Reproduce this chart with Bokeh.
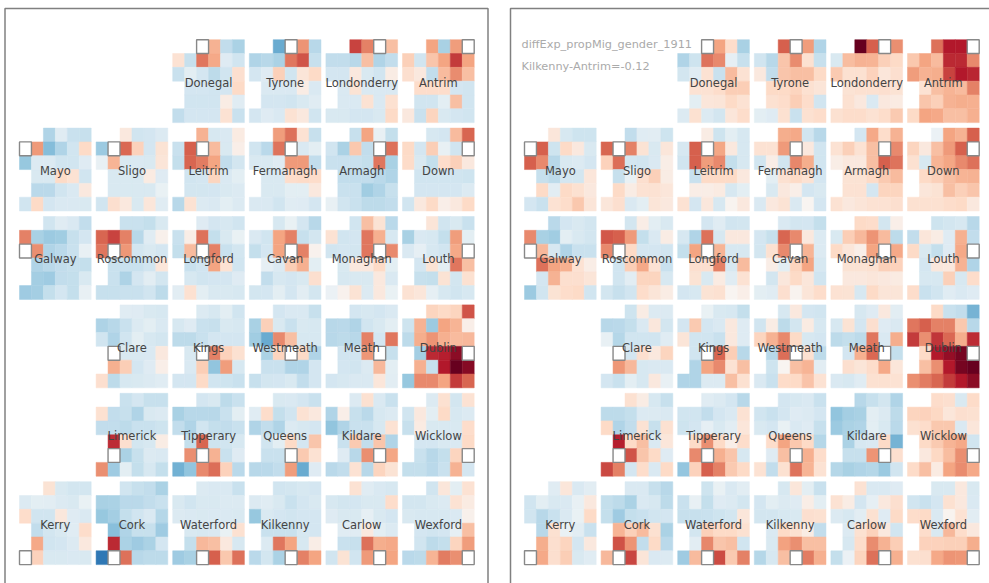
from bokeh.plotting import figure
from bokeh.models import Range1d, ColumnDataSource, LinearColorMapper
from bokeh.core.properties import value
from bokeh.transform import transform
from bokeh.embed import file_html
from bokeh.resources import INLINE

N = None
counties = ["Donegal","Tyrone","Londonderry","Antrim",
            "Mayo","Sligo","Leitrim","Fermanagh","Armagh","Down",
            "Galway","Roscommon","Longford","Cavan","Monaghan","Louth",
            "Clare","Kings","Westmeath","Meath","Dublin",
            "Limerick","Tipperary","Queens","Kildare","Wicklow",
            "Kerry","Cork","Waterford","Kilkenny","Carlow","Wexford"]
title_lines = ["diffExp_propMig_gender_1911", "Kilkenny-Antrim=-0.12"]

# grid position (row, col) of each of the 32 places
grid_rows = [(0,[2,3,4,5]),(1,[0,1,2,3,4,5]),(2,[0,1,2,3,4,5]),(3,[1,2,3,4,5]),(4,[1,2,3,4,5]),(5,[0,1,2,3,4,5])]

# Left panel, colour-scale value per cell (same order as counties)
L_Donegal=[N,3.5,-2.5,-3.2, 1.5,-2.3,5.3,3.8,-1.3,-2, -2.2,-1,-1.8,-2.6,-2,1.7, -1.8,-1.8,-2,-1.8,2, -2,-2,-2,.8,-1.2, -2.5,-1.8,-1.8,-1.8,1.5,-2.2]
L_Tyrone=[-5,N,4.5,-2.8, -3,-2.8,-3.2,5.3,6.3,-2.3, -1.8,-1.3,2.4,-2,1.3,2, -1.5,-1.5,-1.5,.8,-1.5, -1.8,-1.8,-2,-1.6,-1.2, -1.8,-1.3,-1.5,1.5,1,-2]
L_Londonderry=[6.8,5,N,3, -2.5,-2.5,-2.8,3,-3,-2.5, -1.8,-1.8,1,-1.6,-2,.8, -1.5,1.4,-1.5,-1.5,-1.5, -1.5,-1.5,1.5,-1.5,1.6, -1.6,-1.6,-1.8,-1.8,-1.6,2]
L_Antrim=[4,-3.3,4.2,N, 2.4,-2,2.8,4,7,4, 1.7,1,-2.5,3.2,4.7,3, 1.8,1.8,1.8,-1.8,-2, -2,-2,-1,3,-2, 1,-2.2,2.2,-1.6,-1.8,-2]
L_Mayo=[-3,-1.2,-2.2,-2.3, N,4.3,-4.3,-3,-2,2, -3.8,-1.4,-1.4,-2,-2,-1.3, -1.6,-1.6,2,1.5,-2, -2.7,-2.7,-2,-1.5,1, -2,2,-1.8,-1.5,-1.5,-1.6]
L_Sligo=[1,-2,-1.8,-1.4, -3.7,N,5.7,2.3,-1.8,1.4, -.8,3.4,-1.6,-1.5,-1.6,1.3, -1.6,-1.6,-1.6,.9,-1.3, -1.6,-1.6,-1.6,-1.6,-.7, -2,1.7,1,-1.6,1.2,-1.2]
L_Leitrim=[3.5,-1.7,-1.5,.9, -2.2,6,N,3.2,-1.6,.6, -2.4,5.8,5.2,4,-2.5,-1.9, -2,-1.8,2.2,-1.5,-1, -1.9,-1.9,-1.8,-1.6,-1.4, -2.8,1.5,-1.4,-1.5,-1,-1.4]
L_Fermanagh=[4.2,5.5,1.5,-2.3, -2,-2.7,5.4,N,-1.5,-1, -1.6,-1.6,-1.3,4.3,4.3,-2.5, -1.6,-1.6,1.8,2,1.8, -1.6,-1.6,-1,-1,1, -1.5,-1.5,-2,-1.2,-1.3,-1.8]
L_Armagh=[-2.3,4,-.8,-2.4, -2,-3.2,2.7,-2.5,N,5.5, -2.2,-2.2,-2.2,-2.4,5.3,-3.3, -2.5,-2.5,-2.5,-2.7,-3, -2.2,-2.2,-3.5,-3,-2.3, -.8,-2,-2.2,-2.6,-2.6,-2.5]
L_Down=[-1.7,-1.8,3.2,5.8, 2,-1.8,2.5,-.8,-2,N, 1.9,-1.6,-2.4,1.8,2.4,1, -2,-2,-2,-2,-2.1, -1.8,-1.8,-1.8,-1.8,-1.4, -2,1,2,.6,1,2]
L_Galway=[-2,-1.2,-1.5,-2.5, 5,-3.3,-3.7,-3.5,-2.3,-1.8, N,4.6,-3,-2.7,-2.2,-.8, -3,-2.7,-2.5,-2.3,-2.4, -3.4,-3.6,-2.5,-2.4,-1.6, -3.6,-3.4,-2.4,-1.8,-2.4,-.8]
L_Roscommon=[-2.2,-2.2,-2.4,-1.6, 5.8,6.8,5,-2.8,-1.2,.5, 5.3,N,4.4,-1.9,-1.6,-1.8, -2.2,-2.2,-2.2,-2,1.2, -2.2,-3.1,-1.8,-1.1,-1.9, -2.3,-2.3,-2.2,-2.2,-2,-2.6]
L_Longford=[-1.3,-1.8,-1.7,-2, -2.2,.7,5.5,-2.4,-1.6,-.7, -2.4,3.2,N,5,-2.2,-1.9, -2.2,-2,4,1.5,-2, -1.7,-2,-1.8,-1.8,-1.3, -1.1,1.6,-1,-1.6,-1.6,-1.7]
L_Cavan=[-1.7,-.7,-1.8,-2.8, -1.5,-2,4,5,-2.3,-1.9, -2.4,-1.8,4,N,5,.4, -.9,-1.4,2.5,3.6,-1, -2.5,-1.7,-1.8,-1.6,1.7, -1.9,-1.8,-1,-1.8,-1.1,-1.9]
L_Monaghan=[-2,3,1.4,-2.7, 1.5,-2,-1.8,5.3,3.6,-1.7, -2,-1.8,-1.9,5.3,N,4.8, -1.6,1,1,2,-1, -1.7,-1.6,-1.6,1,-1.5, -.6,.4,1.4,-1.4,1,-.7]
L_Louth=[1.3,-2,-1.6,-2.2, -3.3,-1.5,-1.7,-2.4,4.2,-1, -1.5,-.9,-1.7,-2,3.8,N, -1.8,1.4,-1,5.3,3, -2.3,-2.4,1.4,-1.9,1.6, 1.5,1.2,-.9,-1.7,-2,-1.7]
L_Clare=[-1.2,-1.3,-1.6,-1.7, -3.1,-2.8,-2.2,-1.4,-1,-1.5, -2,-3,-2,-1,-1.7,-1.9, N,-1.6,-1.6,-1.5,1, 3.6,2.5,-1.8,-1.3,.6, 1.7,-2.6,-1.7,-1.6,-1.4,-1.2]
L_Kings=[-1.4,-1.7,-1,-2, -1.7,-1.3,-2.2,-2.3,-1.6,-1.7, -2.6,-2.6,-2.2,-1.8,-1.8,-1.8, -1.6,N,5,2.3,1.6, -1.5,2.5,-4,4.2,-1.7, -1.8,-1.8,2,-2,-2.1,-2.2]
L_Westmeath=[-1.8,-1.5,-1.5,-2.3, -3.3,2.4,-1.6,-2.2,-1.6,-1.7, -3.5,-5,4.8,3,-1.7,-1.7, -3.2,2.2,N,2,-3, -2.2,-2.2,-3,-3,-1.8, -2.3,-1.9,-1.8,-1.6,-2.5,-1.8]
L_Meath=[-1.8,-1.7,-1.8,-1.5, -2.8,-2.7,-3,-2,-1.6,-1, -2.8,-2.6,-2.8,5,-1.8,5.3, -2,-2,4.4,N,-2.3, -1.8,-2,-1.4,3.3,-1, -1.8,-1.7,-1.5,-1.5,1.2,-1.1]
L_Dublin=[2.2,2,2.2,6.3, -2.1,3.5,-3.7,4,3.4,.6, -2.6,3.7,4.5,3.6,3.2,3.3, -3.4,7.5,7.8,9,N, 3.6,-2.3,8,10,9.2, -3.8,4.8,4.8,4,7,5.8]
L_Limerick=[-2.2,-1.8,-2.3,-2.3, 1.6,-2.5,-2.3,-3,-1.6,-1.4, -2.5,-2.5,-2.6,-2.2,-2.2,-2.1, 7.4,1.7,-1.9,-1.7,.8, N,-3.2,-2.3,-1.4,-1.5, 4.6,-3.6,-1,-2.4,-1.7,-2.4]
L_Tipperary=[-1.8,-1.6,-2.6,-2.2, -3.3,-2.8,-2.8,-2.8,-2.2,-1, -2.5,-3,-2,-2.4,-2.5,-2.2, -2.4,5.8,-2.1,-2,-1.7, 4.6,N,3.5,-2.2,-1.3, -4.8,-4,4.8,5.6,2.3,-2.7]
L_Queens=[-1.6,-1.5,-1.8,-2.2, -1.2,1.8,-2.4,-2,1.5,1, -3,-2.5,-3,-1.4,-1.7,-1.8, -2,-1,2,-1.8,2.8, -2.2,-2.2,N,2.6,1.5, -2.8,-2.7,-2.5,4.2,-5,-1.3]
L_Kildare=[-1.4,1.6,-1.5,-2.2, -3,.6,-2.3,-2.7,-1.7,-1.4, -4,-3,-2.2,-2.2,-1.7,1.5, -2.2,2.6,-2.5,2.8,-3, -1.3,-2.8,4.6,N,3.9, -2.7,-2.5,1.5,-2.8,2.2,1.4]
L_Wicklow=[-1.4,1.6,-1.9,1.5, -2,1,-1,2,-1.7,-1.4, -2.3,.9,-1.6,-1.6,-1.6,1.8, -1.8,-1.8,-1.6,-1.5,2, -2.2,-2.8,-2.4,2.2,N, -2.4,-2.4,-2.7,-2.2,3.5,-1.8]
L_Kerry=[1.4,-1.6,-1.9,-1.9, -1.4,-1,-1.1,-1.4,-1.6,-.7, 1.8,-2,-2,1.1,-1.3,-1.5, -2.5,-1.9,-1.6,-1.2,1.8, 3.8,-2,-1.8,-1.4,1, N,2.3,-1.6,-1.6,-1.5,-1.6]
L_Cork=[-2,-2.3,-2.5,-3.2, -3.3,-3.2,-2.7,-2.7,-2.5,-2.2, -3.8,-3.4,-2.4,-2,-1.5,-2.9, -4.2,-3,-2.3,-2.3,-3.6, 7.5,-3.2,-3.6,-3.2,-1.8, -7.2,N,5.5,-2.8,-2.6,-2.6]
L_Waterford=[-1.4,-1.5,-1.5,-2.2, -1.6,-2,-1.6,-1.6,-1.4,-1.4, -1.4,-1.5,-1.6,-1.5,-1.5,-1.6, -1.6,-1.7,-1.5,-.7,1.6, -2.4,3.3,3,1,-1.7, -3.6,-3.3,N,6,2.7,5.5]
L_Kilkenny=[-2,-1.9,-1.7,-1.8, -1.4,-1.2,-1.6,-2.2,-1.8,-1.6, -3.8,-1.6,-1.8,-2,-1.8,-1.8, -2.2,-2.2,-2.2,-1.7,-1.8, -1.4,5.3,4,-1.7,.7, -2.7,-1.9,-3.2,N,5,4]
L_Carlow=[1.5,-1.2,-1.5,-1.7, -1.7,-1.9,-1.8,-1.6,-1.6,1.8, -1.3,-1.6,-1.6,-.9,-1.6,-1.8, -1.2,-1.2,1,-1,-1.4, -2.2,-2.3,5.5,3.7,3.8, -2,1.4,-2,4.3,N,4]
L_Wexford=[-2,1.2,-1,1.5, -1.9,-1.9,-1.6,-1.4,1.5,.9, -1.6,-1.7,-1.7,-1.7,-1.5,.5, -1.8,-2,-1.8,-.9,3, -2,-2.6,-2.4,2.2,4.2, -2.7,-2.6,3.4,5.2,4.6,N]

# Right panel
R_Donegal=[N,4,1.8,-3.3, -3,-2.1,5.4,4.8,-.9,-2.3, -1.9,-1.2,1.5,-2.2,3.2,1.5, 1.5,1.5,1.8,2.5,2.5, -1,1.2,1.3,2,1.5, -1.4,1.6,-1.4,-1.9,1.2,1.8]
R_Tyrone=[6,N,4.2,-3, -2,-2.8,2.8,4.7,1.6,-2.3, 1,-2.5,2.8,3,3,2, 2,2,2.2,1.6,1.3, 1.6,1.8,2.5,1.8,-2, -1,-1.3,1.6,-2.2,1.6,1.8]
R_Londonderry=[10,6,N,4.6, -1.6,3.1,3.5,3.4,2.4,2, 2.6,1.6,1.6,2.3,1.2,1.7, 1.4,1.6,1.6,1.7,1.4, 1.6,1,-1.5,1,.9, 1.6,1.8,1.8,1.5,1.8,2.6]
R_Antrim=[5.5,8,8,N, 2.7,4,3.2,7.5,7.5,4.8, 4.2,3.5,3.7,6.8,8,7.6, 1.5,3,3.4,3.2,5, 2.8,2.4,3.5,3.7,3.6, 2,4,3.8,3,3,3.6]
R_Mayo=[1.2,-1.7,-2.1,-2.1, N,6,-2.1,2,1,-1.6, 6,4.8,-2.8,-1.6,-1.4,-1.8, -2.3,-2.6,-1.8,-1.9,1.2, 2,-1.1,2,1.6,1, -1.8,-2.2,1.5,1.8,2.7,1.3]
R_Sligo=[-2.5,-1.2,-1.1,-2.1, 5.8,N,5,1.4,-1.6,1.2, 2.3,5.6,-1.9,-2,-1.5,.7, -2.3,-.7,1.7,2.4,.8, 2,.8,1.5,1.5,1.2, 1.2,1.7,-1.5,-1,1.3,1]
R_Leitrim=[.8,-2.1,-1,-1.7, -1.7,6,N,3.9,1,-1.7, -2,6,4.2,4.8,-2.4,-1.7, -2.2,2,2,2,1, .7,.7,.9,-1.7,-1, 1.5,-1.8,1.1,-1.7,.3,1]
R_Fermanagh=[3.7,3.8,-2,-2.8, 1.5,1.5,4.3,N,1,-2, -2,.7,-2,4.9,3.7,-2, -1,1.6,2,1.5,-1.8, -1.6,1,.6,-1.8,-1.6, -1.5,1,1.4,-1.5,.2,-1.8]
R_Armagh=[-1.8,3.8,1.8,3.5, 1.5,2.4,1.5,3,N,4.8, .7,1,1,3,6,5.4, 1.4,1.4,2,2.6,3.2, 1.5,1.5,-1.8,2.2,2.2, 1.5,1,1.3,1.5,1.5,1.7]
R_Down=[-.6,4,3.5,6, 2.2,1,3,4.3,6,N, 1.6,-1.7,3.4,3.9,4.8,5.5, 2,2.4,3,3.4,3.5, 1.2,1.4,3,2.4,2.8, 1.6,1.6,1.6,1.8,2,1]
R_Galway=[-2.7,-1.8,-1.6,-1.9, 4.8,-3.3,-3.5,-1,-1.6,-1.9, N,3.3,-1.7,-3,-2.2,-2.2, 5.5,4,3.6,1.5,.7, -1.8,3.5,1.7,1.7,1.3, -3.7,-2,1.4,1.8,2,-2]
R_Roscommon=[-1.9,.7,-1,-1.6, 6.2,6,4.3,-2.4,-1.5,.8, 4.8,N,2,-1.8,-1.8,-2, -2,2.5,3.8,1.5,-2.2, -2,-1.1,2.2,2.2,-1.7, -1.9,-2.3,-2,1.8,1.3,.8]
R_Longford=[-1.8,-1.2,-2,-1.9, -1.7,-3,5.5,-1.7,1,1, -2.4,4,N,3.4,-1.7,-1.7, 1.7,1.7,5,-1.7,3.2, 1.4,-1.6,.9,-1.2,1.5, -1.8,-1.7,1.4,1.6,.2,.6]
R_Cavan=[-1.5,-1.9,-1.8,-2.4, -1.8,-2.3,5.8,4.8,1,-1.4, -1.9,1.6,4.8,N,3.4,-1.4, .7,-1,2.2,4,-1.7, -1.9,1.1,2,1.2,-2, -1,-1.2,1.7,.3,1.3,1.8]
R_Monaghan=[2,1.8,-1.9,.6, -1.6,2.5,3.3,4.5,3.2,-2.6, 2,1.2,.6,4,N,3.8, 1.4,1.4,1.6,2.4,2.3, 1,1,1.2,1,.9, 1.5,1.4,-1.7,2,1.3,1.3]
R_Louth=[-2.1,-1.9,-1.7,-2.8, -2.5,1.2,.8,-1.3,3.6,-2.5, 2,-1.6,-2.4,-1.3,3.8,N, -1.8,1.1,1,3.5,-3, -1.7,-1.7,2.4,-1.7,1.8, 1.8,-2.2,-2,-1.2,-1.5,-1.3]
R_Clare=[-2.1,.8,-1.4,-1.4, -2.8,-2.7,-2.4,-1.5,1.1,-1.9, -.8,-2.9,-2,-2,-2,-1.2, N,-1.8,1.7,1,2.2, 4.4,3.3,-1.7,-1.5,-1.5, -1.8,-2.2,-1,-1.7,1,-.8]
R_Kings=[-.7,-1.6,-1.7,-2.4, -1.8,2.6,-1.8,-1.5,1,-1.3, 1.3,-2,-2,-2.2,1,-1.3, -2,N,5.8,2.5,-2.8, -3,4,4.8,1.5,3, -3,-3,-1.4,-1.4,3,1.6]
R_Westmeath=[-1.7,1,-1.8,-2, -2,.8,-2.6,-1.9,.9,-1.7, 2.2,3.5,4.8,2,-1.7,-1.8, -2.8,5.6,N,1.6,-2.6, -2.1,.2,3,3.4,-1.1, -1.5,-2.2,1.9,2,2.9,1.5]
R_Meath=[-1.7,-1.3,1,-1.1, -1.7,1.4,-1.8,1.7,-1.3,-1.5, -2.6,-2.4,-2.6,5.3,-1.5,3.7, -1.8,3.6,5.7,N,-2.4, 1.7,1.3,1.8,3.8,1.2, -1.5,-1.7,-1.2,1.6,1.6,1.5]
R_Dublin=[2,-2.2,-2.5,-4.7, 5.3,6,5,5,2.7,-2.8, 7,4.6,7.2,5.7,3.7,7.4, 2,8,8.8,9.6,N, 3,4.6,8,9.6,10, 4.6,5.2,5.8,7,8,9]
R_Limerick=[1.6,.8,-1.7,-2.3, -2.6,-2.6,-2.4,-1.4,-1.4,-1.5, 2,-3,-2.5,1.5,-2.3,1.6, 7.8,2,3,-1.5,1.2, N,6.3,2.8,2,-1.3, 6.6,5,-1.8,1.8,-1.5,2]
R_Tipperary=[-1.2,-1.4,-1.8,-2.8, -2,-2,-2.5,-1.8,-1.5,1.5, -2.1,-1.8,-.9,-1.6,-1.1,1.2, 2,4.6,2,.6,1.8, 4.8,N,3.6,2.8,-1.7, -3.9,2.3,6,5,2.6,2]
R_Queens=[-1.8,-1.7,-1.5,-2.2, -2,-2.2,-1.8,-1.3,-1.4,-1.8, -1.6,-1.8,-.7,-1.5,-1.3,-2.3, 1.8,4,2.7,2,-2.9, -1.3,3,N,3.6,1.8, 1.5,-2.5,1.6,5.4,3.4,1.5]
R_Kildare=[-2.8,-2.3,-1.9,-3, -4,-3.4,-3.3,-1,-1.4,-2.6, -3.7,-3.2,-3,-1,-1.6,-2.7, -3.2,-1.7,-1.5,2,-4.7, -2.3,-2.3,4.5,N,1.7, -2.9,-3.3,-3,-2.9,-3.7,-2]
R_Wicklow=[1.8,1.7,-1.6,1.9, 2.2,2.3,2.1,1.2,1.7,1.6, 1.6,1.8,2.7,2.7,-1.5,1.2, 2,2.6,3.4,3.8,-2, 1,2.1,3.1,4.6,N, 1.9,3,.9,4,4.7,3.8]
R_Kerry=[-1.2,1.2,-1.5,-1.1, -2,-1,-1.6,-1.5,-.8,1, -2,-2.8,-2.2,-1.5,-.7,2, -2.8,1.6,-.7,-1.1,-2.2, 3.7,1.7,2.2,-1.8,1, N,3.8,1.7,2.5,-1.6,-1.2]
R_Cork=[-1.5,-1.5,-2.3,-2.8, -2.4,-2.6,-3.2,-1.5,-1.7,-2.6, -2.4,-3.6,-2.4,-2.2,-2,-1.8, 3.4,2.4,3.2,1.6,-3.2, 6.4,4.5,-2.5,2,-2.7, 3.3,N,6.7,1.3,-1.5,-1.4]
R_Waterford=[-2.1,-.7,-1.5,-1.1, -2.2,-.8,-2.4,-1.3,-1.4,-1.9, -2.3,-2.3,-2.2,-2.1,-1.9,1.2, -1.9,2.4,2,2,1.6, -1.1,4.9,2.8,3,-2, -3.6,3.2,N,6.5,2.6,5]
R_Kilkenny=[-1.7,1.2,-1,-2.2, -1.8,-1,-1.4,-1.3,.7,-1, -1.9,-1.9,-1.7,-1.6,1.7,1.6, -1.5,2,1.6,.8,-2.5, -1.6,4.1,4.6,3,3, -2.9,-1.7,3,N,5.2,3.6]
R_Carlow=[1.5,-1.5,-1.5,-1.3, 1.5,.8,-1.8,-.9,1,1.7, -1.4,-1.7,-1.1,1.6,-1.3,2, -1.4,1.6,2.3,1,-2, -1.7,1.8,4.7,3.5,2.5, -2.4,-.6,2.2,5.5,N,3.6]
R_Wexford=[-1.6,-1.6,1,-1.6, -2,-2.2,-1.8,1.6,1,-1.5, 1.8,2,-1.5,.3,1.5,-1.1, 1.8,-1.6,3.3,1.8,1, 2.3,2.3,2.4,2.4,3.7, 1.6,1.7,3.8,4.5,4.4,N]

left_panel = [L_Donegal,L_Tyrone,L_Londonderry,L_Antrim,L_Mayo,L_Sligo,L_Leitrim,L_Fermanagh,L_Armagh,L_Down,L_Galway,L_Roscommon,L_Longford,L_Cavan,L_Monaghan,L_Louth,L_Clare,L_Kings,L_Westmeath,L_Meath,L_Dublin,L_Limerick,L_Tipperary,L_Queens,L_Kildare,L_Wicklow,L_Kerry,L_Cork,L_Waterford,L_Kilkenny,L_Carlow,L_Wexford]
right_panel = [R_Donegal,R_Tyrone,R_Londonderry,R_Antrim,R_Mayo,R_Sligo,R_Leitrim,R_Fermanagh,R_Armagh,R_Down,R_Galway,R_Roscommon,R_Longford,R_Cavan,R_Monaghan,R_Louth,R_Clare,R_Kings,R_Westmeath,R_Meath,R_Dublin,R_Limerick,R_Tipperary,R_Queens,R_Kildare,R_Wicklow,R_Kerry,R_Cork,R_Waterford,R_Kilkenny,R_Carlow,R_Wexford]

places = [(r, c) for r, cols in grid_rows for c in cols]
for panel in (left_panel, right_panel):
    for i, vals in enumerate(panel):
        assert len(vals) == 32, (i, len(vals))
        assert vals[i] is None and vals.count(None) == 1, (i, counties[i])

# layout in screen pixels
PANEL_X = [19.0, 524.0]
TOP = 39.2
CW, CH = 11.95, 13.82
PX, PY = 76.6, 88.4

def hex2rgb(h):
    return tuple(int(h[i:i+2], 16) for i in (1, 3, 5))
keys = ["#053061","#2166ac","#4393c3","#92c5de","#d1e5f0","#f7f7f7","#fddbc7","#f4a582","#d6604d","#b2182b","#67001f"]
palette = []
for k in range(len(keys)-1):
    a, b = hex2rgb(keys[k]), hex2rgb(keys[k+1])
    for s in range(25):
        t = s/25
        palette.append("#%02x%02x%02x" % tuple(round(a[j]+(b[j]-a[j])*t) for j in range(3)))
palette.append(keys[-1])
mapper = LinearColorMapper(palette=palette, low=-10, high=10)

p = figure(width=989, height=583, x_range=Range1d(0, 989), y_range=Range1d(583, 0),
           output_backend="svg", toolbar_location=None, min_border=0,
           outline_line_color=None, background_fill_color="white",
           styles={"position": "absolute", "left": "0px", "top": "0px"})
p.xaxis.visible = False
p.yaxis.visible = False
p.xgrid.visible = False
p.ygrid.visible = False

cells = dict(x=[], y=[], v=[])
selfs = dict(x=[], y=[])
labels = dict(x=[], y=[], t=[])
for x0, panel in zip(PANEL_X, (left_panel, right_panel)):
    for m, vals in enumerate(panel):
        mr, mc = places[m]
        ox, oy = x0 + mc*PX, TOP + mr*PY
        labels["x"].append(ox + 3*CW)
        labels["y"].append(oy + 3*CH + 1.5)
        labels["t"].append(counties[m])
        for (r, c), v in zip(places, vals):
            cx, cy = ox + (c+.5)*CW, oy + (r+.5)*CH
            if v is None:
                selfs["x"].append(cx); selfs["y"].append(cy)
            else:
                cells["x"].append(cx); cells["y"].append(cy); cells["v"].append(v)

p.rect("x", "y", width=CW, height=CH, source=ColumnDataSource(cells),
       fill_color=transform("v", mapper), line_color=transform("v", mapper), line_width=0.5)
p.rect("x", "y", width=CW, height=CH, source=ColumnDataSource(selfs),
       fill_color="white", line_color="#888888", line_width=1.4)
p.text("x", "y", text="t", source=ColumnDataSource(labels), text_align="center", text_baseline="middle",
       text_font=value("DejaVu Sans"), text_font_size="11.5px", text_color="#444444")

# panel frames
p.line([4.5, 4.5, 487.5, 487.5], [640, 8, 8, 640], line_color="#808080", line_width=1.5)
p.line([510, 510, 1040], [640, 8, 8], line_color="#808080", line_width=1.5)

p.text([521, 521], [44, 66], text=title_lines, text_align="left", text_baseline="middle",
       text_font=value("DejaVu Sans"), text_font_size="11.3px", text_color="#aaaaaa")

open("out.html", "w").write(file_html(p, INLINE))
